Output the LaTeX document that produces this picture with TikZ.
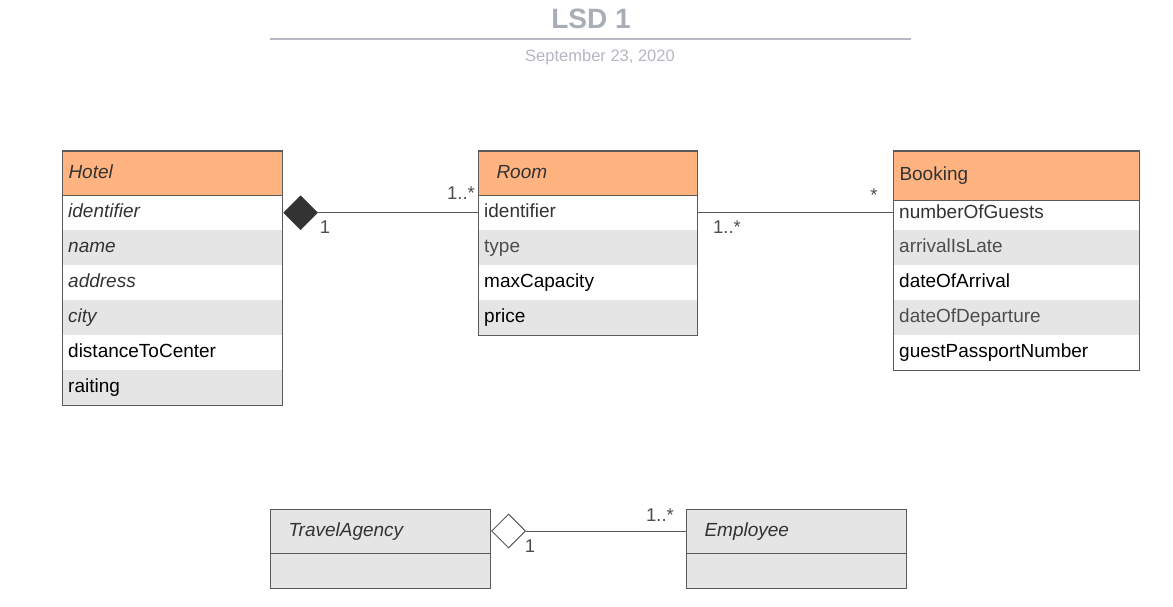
\documentclass[tikz,border=0pt]{standalone}
\usepackage{fontspec}
\setmainfont{Liberation Sans}
\usetikzlibrary{shapes.geometric}
\definecolor{hdr}{HTML}{FFB380}
\definecolor{rowg}{HTML}{E5E5E5}
\definecolor{bord}{HTML}{5A5A5A}
\definecolor{ttl}{HTML}{A9ADB6}
\definecolor{dtc}{HTML}{B4B7BF}
\definecolor{dark}{HTML}{333333}
\definecolor{mid}{HTML}{4D4D4D}
\begin{document}
\begin{tikzpicture}[x=1pt,y=-1pt,
  every node/.style={font=\fontsize{19}{22}\selectfont},
  cellbox/.style={anchor=north west, inner xsep=6pt, inner ysep=0pt, align=left,
    minimum height=35pt, text height=14pt, text depth=4pt},
  hdrcell/.style={cellbox, draw=bord, line width=1pt, fill=hdr, text=dark},
  greyhdr/.style={cellbox, draw=bord, line width=1pt, fill=rowg, text=dark},
  whiterow/.style={cellbox, fill=white},
  greyrow/.style={cellbox, fill=rowg},
  outline/.style={draw=bord, line width=1pt},
  assoc/.style={draw=bord, line width=1pt},
  mult/.style={font=\fontsize{18.5}{21}\selectfont, text=mid, anchor=base, inner sep=0pt},
  compd/.style={diamond, aspect=1, minimum size=34pt, inner sep=0pt, fill=dark, draw=dark},
  aggd/.style={diamond, aspect=1, minimum size=34pt, inner sep=0pt, fill=white, draw=bord, line width=1pt}
]
\useasboundingbox (0,0) rectangle (1173,607);

% title
\node[font=\fontsize{28}{32}\selectfont\bfseries, text=ttl, anchor=base, inner sep=0pt] (title) at (591,29) {LSD 1};
\coordinate (tl) at (270,39);
\coordinate (tr) at (911,39);
\draw[ttl!85, line width=2.2pt] (tl) -- (tr);
\node[font=\fontsize{16.5}{19}\selectfont, text=dtc, anchor=base, inner sep=0pt] (date) at (600,62) {September 23, 2020};

% Hotel
\node[whiterow, text width=208pt, text=dark] (h1) at (62,195) {\textit{identifier}};
\node[greyrow, text width=208pt, text=dark] (h2) at (62,230) {\textit{name}};
\node[whiterow, text width=208pt, text=dark] (h3) at (62,265) {\textit{address}};
\node[greyrow, text width=208pt, text=dark] (h4) at (62,300) {\textit{city}};
\node[whiterow, text width=208pt, text=black] (h5) at (62,335) {distanceToCenter};
\node[greyrow, text width=208pt, text=black] (h6) at (62,370) {raiting};
\node[hdrcell, text width=208pt, minimum height=44pt] (hotel) at (62,151) {\textit{Hotel}};
\draw[outline] (hotel.north west) rectangle (h6.south east);

% Room
\node[whiterow, text width=207pt, text=dark] (r1) at (478,195) {identifier};
\node[greyrow, text width=207pt, text=mid] (r2) at (478,230) {type};
\node[whiterow, text width=207pt, text=black] (r3) at (478,265) {maxCapacity};
\node[greyrow, text width=207pt, text=black] (r4) at (478,300) {price};
\node[hdrcell, text width=207pt, minimum height=44pt] (room) at (478,151) {\hspace*{12pt}\textit{Room}};
\draw[outline] (room.north west) rectangle (r4.south east);

% Booking
\node[whiterow, text width=234pt, text=dark, minimum height=30pt, text depth=8pt] (b1) at (893,200) {numberOfGuests};
\node[greyrow, text width=234pt, text=mid] (b2) at (893,230) {arrivalIsLate};
\node[whiterow, text width=234pt, text=black] (b3) at (893,265) {dateOfArrival};
\node[greyrow, text width=234pt, text=mid] (b4) at (893,300) {dateOfDeparture};
\node[whiterow, text width=234pt, text=black] (b5) at (893,335) {guestPassportNumber};
\node[hdrcell, text width=234pt, minimum height=49pt] (booking) at (893,151) {Booking};
\draw[outline] (booking.north west) rectangle (b5.south east);

% TravelAgency
\node[greyhdr, text width=208pt, minimum height=44pt] (ta) at (270,509) {\hspace*{12pt}\textit{TravelAgency}};
\node[greyhdr, text width=208pt, minimum height=35pt] (ta1) at (270,553) {};
% Employee
\node[greyhdr, text width=208pt, minimum height=44pt] (emp) at (686,509) {\hspace*{12pt}\textit{Employee}};
\node[greyhdr, text width=208pt, minimum height=35pt] (emp1) at (686,553) {};

% Hotel -- Room composition
\node[compd, anchor=west] (comp) at ([xshift=1pt]h1.east) {};
\draw[assoc] (comp.east) -- (r1.west);
\node[mult] (m1) at (325,233) {1};
\node[mult] (m2) at (461,200) {1..*};

% Room -- Booking
\draw[assoc] (r1.east) -- (r1.east -| b1.west);
\node[mult] (m3) at (727,233) {1..*};
\node[mult] (m4) at (874,201) {*};

% TravelAgency -- Employee aggregation
\node[aggd, anchor=west] (agg) at ([yshift=0.5pt]ta.east) {};
\draw[assoc] (agg.east) -- (agg.east -| emp.west);
\node[mult] (m5) at (530,552) {1};
\node[mult] (m6) at (660,521) {1..*};
\end{tikzpicture}
\end{document}
